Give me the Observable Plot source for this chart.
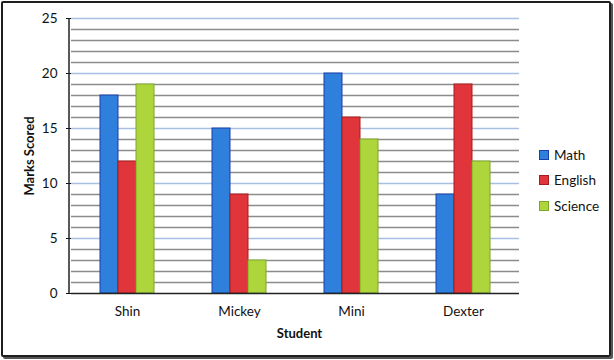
<!DOCTYPE html>
<html>
<head>
<meta charset="utf-8">
<script src="https://cdn.jsdelivr.net/npm/d3@7"></script>
<script src="https://cdn.jsdelivr.net/npm/@observablehq/plot@0.6"></script>
<style>
  html, body { margin: 0; padding: 0; background: #fff; }
  #wrap { position: relative; width: 614px; height: 360px; overflow: hidden; font-family: Lato, "Liberation Sans", sans-serif; }
  #chart { position: absolute; left: 0; top: 0; }
  #border { position: absolute; left: 1px; top: 1px; width: 606px; height: 352px; border: 2px solid #1e1e1e; border-radius: 2px; box-shadow: 2px 2px 0 #555; pointer-events: none; }
  #legend { position: absolute; left: 539px; top: 142px; font-size: 13.5px; color: #111; }
  .item { display: flex; align-items: center; height: 25.5px; }
  .sw { width: 8px; height: 8px; border: 1px solid; margin-right: 5px; }
</style>
</head>
<body>
<div id="wrap">
  <div id="chart"></div>
  <div id="legend"></div>
  <div id="border"></div>
</div>
<script>
const students = ["Shin", "Mickey", "Mini", "Dexter"];
const subjects = ["Math", "English", "Science"];
const math = [18, 15, 20, 9];
const english = [12, 9, 16, 19];
const science = [19, 3, 14, 12];
const yTicks = [0, 5, 10, 15, 20, 25];
const minorTicks = [1,2,3,4,6,7,8,9,11,12,13,14,16,17,18,19,21,22,23,24];
const fills = ["#2f7fdc", "#e0353a", "#aed63c"];
const strokes = ["#1a3fa6", "#a81c1c", "#7ca52a"];

const series = [math, english, science];
const rows = [];
students.forEach((s, i) => subjects.forEach((sub, j) => rows.push({student: s, subject: sub, value: series[j][i]})));

const chart = Plot.plot({
  width: 614,
  height: 360,
  marginLeft: 69,
  marginRight: 94,
  marginTop: 18,
  marginBottom: 67,
  style: {fontFamily: "Lato, 'Liberation Sans', sans-serif", fontSize: "13.5px", color: "#111"},
  fx: {domain: students, padding: 0, label: "Student", labelArrow: false, labelAnchor: "center", labelOffset: 44, tickSize: 0, tickPadding: 13},
  x: {domain: subjects, paddingInner: 0, paddingOuter: 1.5, axis: null},
  y: {domain: [0, 25], ticks: yTicks, tickSize: 5, tickPadding: 9, label: "Marks Scored", labelArrow: false, labelAnchor: "center", labelOffset: 47},
  color: {domain: subjects, range: fills},
  marks: [
    Plot.ruleY(minorTicks, {stroke: "#8c8c8c", strokeWidth: 1.6}),
    Plot.ruleY(yTicks.filter(d => d > 0), {stroke: "#a7bfe3", strokeWidth: 1.6}),
    Plot.barY(rows, {fx: "student", x: "subject", y: "value", fill: "subject",
      stroke: d => strokes[subjects.indexOf(d.subject)], strokeWidth: 1, inset: 0}),
    Plot.ruleY([0], {stroke: "#222", strokeWidth: 1.5})
  ]
});

// Y axis domain line, positioned via the chart's own y scale
const ys = chart.scale("y");
d3.select(chart).append("line")
  .attr("x1", 69).attr("x2", 69)
  .attr("y1", ys.apply(0)).attr("y2", ys.apply(25))
  .attr("stroke", "#222").attr("stroke-width", 1.5);

d3.select(chart).selectAll("text").each(function() {
  const t = this.textContent;
  if (t.startsWith("Student") || t.startsWith("Marks Scored")) {
    const clean = t.replace(/[\u2190-\u21FF]/g, "").trim();
    d3.select(this).selectAll("tspan").remove();
    d3.select(this).text(clean).attr("font-weight", "bold").style("font-size", "13px");
    if (clean === "Student") d3.select(this).attr("dx", 4);
  }
});

document.getElementById("chart").appendChild(chart);

const legend = document.getElementById("legend");
subjects.forEach((s, j) => {
  const item = document.createElement("div");
  item.className = "item";
  const sw = document.createElement("span");
  sw.className = "sw";
  sw.style.background = fills[j];
  sw.style.borderColor = strokes[j];
  item.appendChild(sw);
  item.appendChild(document.createTextNode(s));
  legend.appendChild(item);
});
</script>
</body>
</html>
